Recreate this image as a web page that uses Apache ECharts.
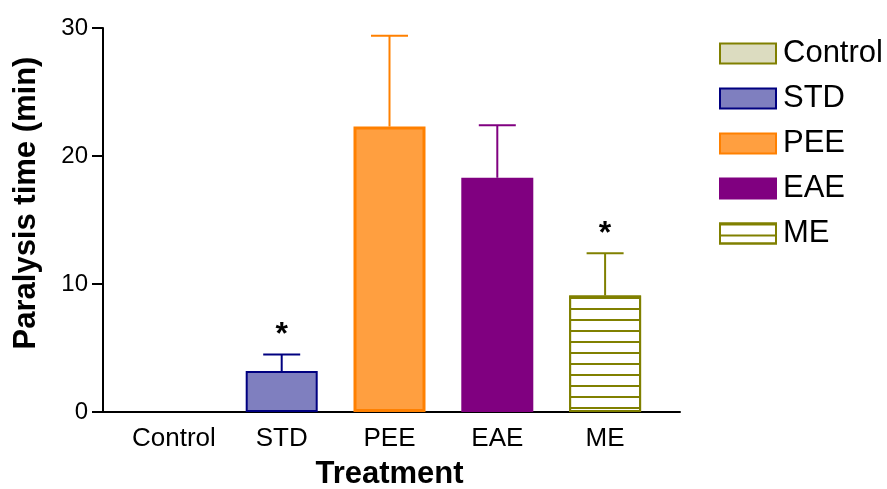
<!DOCTYPE html>
<html>
<head>
<meta charset="utf-8">
<script src="https://cdn.jsdelivr.net/npm/echarts@6/dist/echarts.min.js"></script>
<style>
  html, body { margin: 0; padding: 0; background: #fff; }
  #chart { width: 887px; height: 489px; }
</style>
</head>
<body>
<div id="chart"></div>
<script>
// data
var categories = ["Control", "STD", "PEE", "EAE", "ME"];
var means = [0, 3.2, 22.3, 18.3, 9.1];
var sems = [0, 1.3, 7.1, 4.1, 3.3];
var signif = ["", "*", "", "", "*"];
var yTicks = [0, 10, 20, 30];

var fills = ["#dcdcc0", "#7f7fbf", "#ff9f40", "#800080", "#ffffff"];
var borders = ["#808000", "#000080", "#ff8000", "#800080", "#808000"];
var font = "Liberation Sans, Arial, sans-serif";

var chart = echarts.init(document.getElementById("chart"));

var barSeries = categories.map(function (name, i) {
  var data = categories.map(function (c, j) {
    if (j !== i) return null;
    if (means[j] === 0) return { value: 0, itemStyle: { borderWidth: 0 } };
    return means[j];
  });
  var style = { color: fills[i], borderColor: borders[i], borderWidth: name === "PEE" ? 3 : 2 };
  if (name === "ME") {
    style.decal = {
      symbol: "rect",
      symbolSize: 1,
      dashArrayX: [1, 0],
      dashArrayY: [1.5, 8.5],
      rotation: 0,
      color: "#808000"
    };
  }
  return {
    name: name,
    type: "bar",
    xAxisIndex: 1,
    yAxisIndex: 1,
    barWidth: 72,
    barGap: "-100%",
    itemStyle: style,
    data: data
  };
});

var errData = categories.map(function (c, i) {
  return [i, means[i], means[i] + sems[i]];
});

var errSeries = {
  type: "custom",
  xAxisIndex: 1,
  yAxisIndex: 1,
  z: 3,
  data: errData,
  renderItem: function (params, api) {
    var i = api.value(0);
    var lo = api.coord([i, api.value(1)]);
    var hi = api.coord([i, api.value(2)]);
    var children = [];
    var col = borders[i];
    if (api.value(2) > api.value(1)) {
      children.push({
        type: "line",
        shape: { x1: lo[0], y1: lo[1], x2: hi[0], y2: hi[1] },
        style: { stroke: col, lineWidth: 2 }
      });
      children.push({
        type: "line",
        shape: { x1: hi[0] - 18.5, y1: hi[1], x2: hi[0] + 18.5, y2: hi[1] },
        style: { stroke: col, lineWidth: 2 }
      });
    }
    if (signif[i]) {
      children.push({
        type: "text",
        x: hi[0],
        y: hi[1] - 19,
        style: {
          text: signif[i],
          fill: "#000",
          font: "bold 32px " + font,
          align: "center",
          verticalAlign: "middle"
        }
      });
    }
    return { type: "group", children: children };
  }
};

chart.setOption({
  animation: false,
  backgroundColor: "#fff",
  textStyle: { fontFamily: font },
  legend: {
    data: categories,
    orient: "vertical",
    left: 714,
    top: 33,
    icon: "rect",
    itemWidth: 56,
    itemHeight: 20,
    itemGap: 14,
    textStyle: { fontSize: 31, color: "#000", lineHeight: 30, padding: [0, 0, 0, 2] }
  },
  grid: [
    { left: 103, right: 207, top: 28, bottom: 77, outerBoundsMode: "none" },
    { left: 120, right: 228, top: 28, bottom: 77, outerBoundsMode: "none" }
  ],
  xAxis: [
    {
      type: "value",
      gridIndex: 0,
      min: 0,
      max: 1,
      axisLine: { show: true, lineStyle: { color: "#000", width: 2 } },
      axisTick: { show: false },
      axisLabel: { show: false },
      splitLine: { show: false }
    },
    {
      type: "category",
      gridIndex: 1,
      data: categories,
      axisLine: { show: false },
      axisTick: { show: false },
      axisLabel: { fontSize: 26, color: "#000", margin: 14, interval: 0 },
      name: "Treatment",
      nameLocation: "middle",
      nameGap: 47,
      nameTextStyle: { fontSize: 31, fontWeight: "bold", color: "#000" }
    }
  ],
  yAxis: [
    {
      type: "value",
      gridIndex: 0,
      min: yTicks[0],
      max: yTicks[yTicks.length - 1],
      interval: 10,
      axisLine: { show: true, lineStyle: { color: "#000", width: 2 } },
      axisTick: { show: true, length: 11, lineStyle: { color: "#000", width: 2 } },
      axisLabel: { fontSize: 24, color: "#000", margin: 15 },
      splitLine: { show: false },
      name: "Paralysis time (min)",
      nameLocation: "middle",
      nameGap: 61,
      nameTextStyle: { fontSize: 31, fontWeight: "bold", color: "#000", padding: [0, 0, 0, 34] }
    },
    {
      type: "value",
      gridIndex: 1,
      min: yTicks[0],
      max: yTicks[yTicks.length - 1],
      show: false
    }
  ],
  series: barSeries.concat([errSeries])
});
</script>
</body>
</html>
